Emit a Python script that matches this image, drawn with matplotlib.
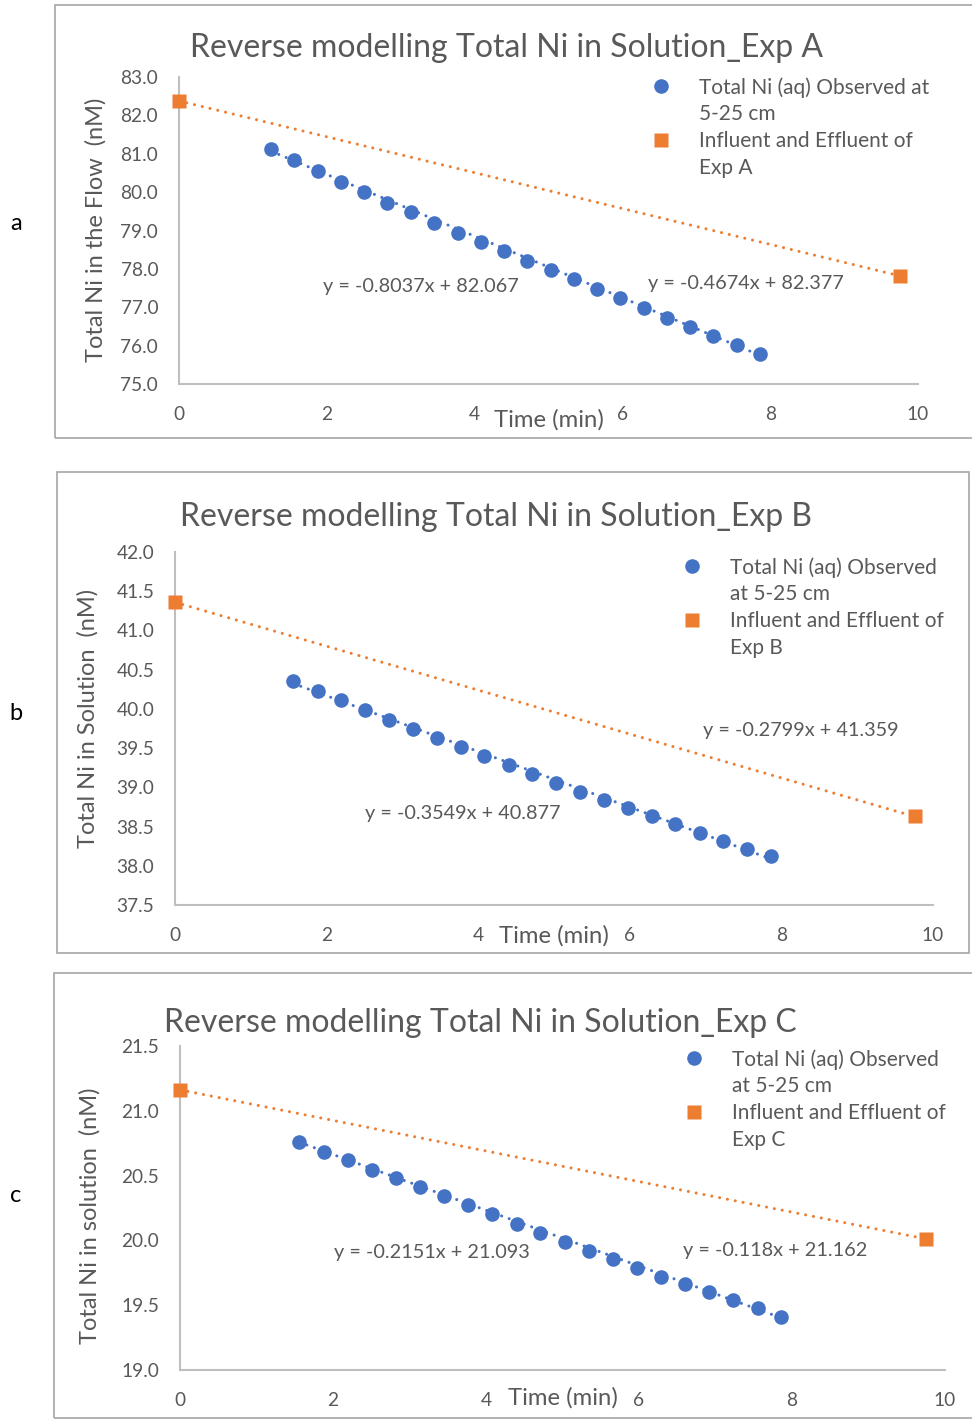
import matplotlib
matplotlib.use("Agg")
import matplotlib.pyplot as plt
import numpy as np
from matplotlib.lines import Line2D
from matplotlib.patches import Rectangle

W, H = 972, 1426
BLUE = "#4472C4"
ORANGE = "#ED7D31"
TXT = "#595959"
AXC = "#BFBFBF"
FONT = "Lato"

# observed Ni along the column (time in min, Ni in nM)
time_a = [1.25, 1.56, 1.88, 2.19, 2.51, 2.82, 3.14, 3.45, 3.77, 4.08, 4.40,
          4.71, 5.03, 5.34, 5.66, 5.97, 6.29, 6.60, 6.92, 7.23, 7.55, 7.86]
ni_a = [81.13, 80.84, 80.56, 80.27, 80.00, 79.72, 79.47, 79.20, 78.94, 78.70, 78.46,
        78.21, 77.97, 77.73, 77.48, 77.23, 76.99, 76.73, 76.49, 76.24, 76.02, 75.78]

time_b = [1.56, 1.88, 2.19, 2.51, 2.82, 3.14, 3.45, 3.77, 4.08, 4.40, 4.71,
          5.03, 5.34, 5.66, 5.97, 6.29, 6.60, 6.92, 7.23, 7.55, 7.86]
ni_b = [40.35, 40.23, 40.11, 39.99, 39.86, 39.74, 39.63, 39.51, 39.40, 39.28, 39.17,
        39.06, 38.94, 38.84, 38.74, 38.63, 38.53, 38.42, 38.32, 38.22, 38.12]

time_c = [1.56, 1.88, 2.19, 2.51, 2.82, 3.14, 3.45, 3.77, 4.08, 4.40, 4.71,
          5.03, 5.34, 5.66, 5.97, 6.29, 6.60, 6.92, 7.23, 7.55, 7.86]
ni_c = [20.76, 20.68, 20.62, 20.54, 20.48, 20.41, 20.34, 20.27, 20.20, 20.13, 20.06,
        19.99, 19.92, 19.86, 19.79, 19.72, 19.66, 19.60, 19.54, 19.48, 19.41]

# influent / effluent
io_time_a = [0, 9.75]
io_ni_a = [82.38, 77.82]
io_time_b = [0, 9.76]
io_ni_b = [41.36, 38.63]
io_time_c = [0, 9.75]
io_ni_c = [21.16, 20.01]

# linear trendlines (slope, intercept)
fit_obs = {"A": (-0.8037, 82.067), "B": (-0.3549, 40.877), "C": (-0.2151, 21.093)}
fit_io = {"A": (-0.4674, 82.377), "B": (-0.2799, 41.359), "C": (-0.118, 21.162)}

xticks = [0, 2, 4, 6, 8, 10]
yticks_a = [75.0, 76.0, 77.0, 78.0, 79.0, 80.0, 81.0, 82.0, 83.0]
yticks_b = [37.5, 38.0, 38.5, 39.0, 39.5, 40.0, 40.5, 41.0, 41.5, 42.0]
yticks_c = [19.0, 19.5, 20.0, 20.5, 21.0, 21.5]

ylabels = {"A": "Total Ni in the Flow  (nM)",
           "B": "Total Ni in Solution  (nM)",
           "C": "Total Ni in solution  (nM)"}
obs_label = {"A": ["Total Ni (aq) Observed at", "5-25 cm"],
             "B": ["Total Ni (aq) Observed", "at 5-25 cm"],
             "C": ["Total Ni (aq) Observed", "at 5-25 cm"]}


def fx(x):
    return x / W


def fy(y):
    return 1 - y / H


def eq_text(fit):
    return f"y = {fit[0]}x + {fit[1]}"


fig = plt.figure(figsize=(W / 100, H / 100), dpi=100)

# panel frames
for (x0, y0, x1, y1) in [(55, 5, 980, 438), (57, 472, 969, 953), (54, 973, 980, 1418)]:
    fig.patches.append(Rectangle((fx(x0), fy(y1)), fx(x1 - x0), (y1 - y0) / H,
                                 transform=fig.transFigure, fill=False,
                                 edgecolor="#A6A6A6", lw=1.2))

panels = [
    dict(key="A", letter="a", box=(179, 77, 918, 384), t=time_a, y=ni_a,
         io_t=io_time_a, io_y=io_ni_a, yticks=yticks_a,
         title=(506, 48), leg=(652, 77), letter_y=224,
         eq_obs=(3.27, 77.55), eq_io=(7.67, 77.63), xlab_y=-0.117, ylab=(96, 230)),
    dict(key="B", letter="b", box=(175, 552, 933, 905), t=time_b, y=ni_b,
         io_t=io_time_b, io_y=io_ni_b, yticks=yticks_b,
         title=(496, 517), leg=(683, 557), letter_y=714,
         eq_obs=(3.79, 38.67), eq_io=(8.25, 39.73), xlab_y=-0.088, ylab=(88, 718)),
    dict(key="C", letter="c", box=(180, 1046, 945, 1370), t=time_c, y=ni_c,
         io_t=io_time_c, io_y=io_ni_c, yticks=yticks_c,
         title=(480, 1023), leg=(685, 1049), letter_y=1196,
         eq_obs=(3.29, 19.91), eq_io=(7.78, 19.92), xlab_y=-0.086, ylab=(90, 1216)),
]

for p in panels:
    l, t, r, b = p["box"]
    ax = fig.add_axes([fx(l), fy(b), (r - l) / W, (b - t) / H])
    key = p["key"]

    # trendlines from the fitted coefficients
    s, c = fit_obs[key]
    xt = np.array([p["t"][0], p["t"][-1]])
    ax.plot(xt, s * xt + c, color=BLUE, lw=2.2, linestyle=(0, (0.01, 2.6)),
            dash_capstyle="round", zorder=2)
    s, c = fit_io[key]
    xt = np.array([p["io_t"][0], p["io_t"][-1]])
    ax.plot(xt, s * xt + c, color=ORANGE, lw=2.2, linestyle=(0, (0.01, 2.6)),
            dash_capstyle="round", zorder=2)

    ax.plot(p["t"], p["y"], "o", color=BLUE, ms=10.5, mec="none", zorder=3)
    ax.plot(p["io_t"], p["io_y"], "s", color=ORANGE, ms=9.5, mec="none", zorder=3,
            clip_on=False)

    ax.set_xlim(0, 10)
    ax.set_ylim(p["yticks"][0], p["yticks"][-1])
    ax.set_xticks(xticks)
    ax.set_xticklabels([str(v) for v in xticks])
    ax.set_yticks(p["yticks"])
    ax.set_yticklabels([f"{v:.1f}" for v in p["yticks"]])
    ax.tick_params(length=0, labelsize=13.8, labelcolor=TXT)
    ax.tick_params(axis="x", pad=16)
    ax.tick_params(axis="y", pad=15)
    for lab in ax.get_xticklabels() + ax.get_yticklabels():
        lab.set_fontfamily(FONT)
    for side in ("top", "right"):
        ax.spines[side].set_visible(False)
    for side in ("left", "bottom"):
        ax.spines[side].set_color(AXC)
        ax.spines[side].set_linewidth(1.5)

    ax.set_xlabel("Time (min)", fontsize=17.2, color=TXT, family=FONT, va="center")
    ax.xaxis.set_label_coords(0.5, p["xlab_y"])
    fig.text(fx(p["ylab"][0]), fy(p["ylab"][1]), ylabels[key], rotation=90,
             ha="center", va="center", color=TXT, family=FONT, fontsize=17)

    fig.text(fx(p["title"][0]), fy(p["title"][1]),
             f"Reverse modelling Total Ni in Solution_Exp {key}",
             ha="center", va="center", fontsize=23, color=TXT, family=FONT)

    ax.text(*p["eq_obs"], eq_text(fit_obs[key]), ha="center", va="center",
            fontsize=14.3, color=TXT, family=FONT)
    ax.text(*p["eq_io"], eq_text(fit_io[key]), ha="center", va="center",
            fontsize=14.3, color=TXT, family=FONT)

    blank = Line2D([], [], linestyle="none")
    handles = [Line2D([], [], linestyle="none", marker="o", color=BLUE, ms=10.5, mec="none"),
               blank,
               Line2D([], [], linestyle="none", marker="s", color=ORANGE, ms=9.5, mec="none"),
               blank]
    labels = obs_label[key] + ["Influent and Effluent of", f"Exp {key}"]
    leg = ax.legend(handles, labels, loc="upper left",
                    bbox_to_anchor=(fx(p["leg"][0]), fy(p["leg"][1])),
                    bbox_transform=fig.transFigure, frameon=False, borderpad=0,
                    borderaxespad=0, handlelength=0.9, handletextpad=1.35,
                    labelspacing=0.33, prop=dict(family=FONT, size=15))
    for txt in leg.get_texts():
        txt.set_color(TXT)

    fig.text(fx(16), fy(p["letter_y"]), p["letter"], ha="center", va="center",
             fontsize=17, color="black", family=FONT)

fig.savefig("out.png", dpi=100)
